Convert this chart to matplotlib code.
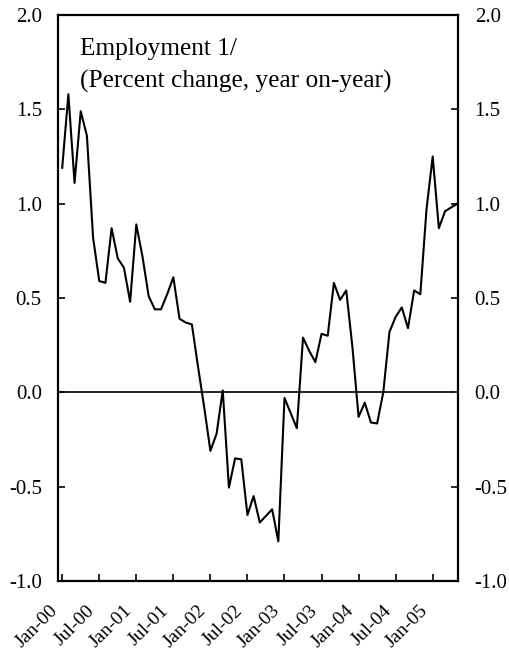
import matplotlib
matplotlib.use("Agg")
import matplotlib.pyplot as plt
import matplotlib.transforms as mtransforms

months = ["Jan", "Feb", "Mar", "Apr", "May", "Jun", "Jul", "Aug", "Sep", "Oct", "Nov", "Dec"]
dates = [f"{m}-{y:02d}" for y in range(0, 6) for m in months][:65]

employment = [
    1.19, 1.58, 1.11, 1.49, 1.36, 0.82, 0.59, 0.58, 0.87, 0.71, 0.66, 0.48,
    0.89, 0.72, 0.51, 0.44, 0.44, 0.52, 0.61, 0.39, 0.37, 0.36, 0.135, -0.08,
    -0.31, -0.22, 0.01, -0.505, -0.35, -0.355, -0.65, -0.55, -0.69, -0.655, -0.62, -0.79,
    -0.03, -0.11, -0.19, 0.29, 0.22, 0.16, 0.31, 0.30, 0.58, 0.49, 0.54, 0.24,
    -0.13, -0.055, -0.16, -0.165, 0.0, 0.32, 0.40, 0.45, 0.34, 0.54, 0.52, 0.97,
    1.25, 0.87, 0.96, 0.98, 1.00,
]
tick_labels = ["Jan-00", "Jul-00", "Jan-01", "Jul-01", "Jan-02", "Jul-02",
               "Jan-03", "Jul-03", "Jan-04", "Jul-04", "Jan-05"]
y_ticks = [-1.0, -0.5, 0.0, 0.5, 1.0, 1.5, 2.0]

plt.rcParams["font.family"] = ["Liberation Serif", "DejaVu Serif"]

fig = plt.figure(figsize=(5.1, 6.57), dpi=100)
ax = fig.add_axes([58.5 / 510, 1 - 581 / 657, (458 - 58.5) / 510, (581 - 15) / 657])

x = list(range(len(employment)))
ax.plot(x, employment, color="black", lw=1.5)
ax.axhline(0, color="black", lw=1.2, xmin=0, xmax=0.985)

ax.set_xlim(-0.6, 64.1)
ax.set_ylim(-1.0, 2.0)

tick_pos = [dates.index(t) for t in tick_labels]
ax.set_xticks(tick_pos)
ax.set_xticklabels(tick_labels, rotation=45, ha="right", rotation_mode="anchor", fontsize=14)
ax.tick_params(axis="x", direction="in", length=5, width=1.2, pad=15)
shift = mtransforms.ScaledTranslation(-13 / 100, 0, fig.dpi_scale_trans)
for lab in ax.get_xticklabels():
    lab.set_transform(lab.get_transform() + shift)

ax.set_yticks(y_ticks)
ax.set_yticklabels([f"{v:.1f}" for v in y_ticks], fontsize=15)
ax.tick_params(axis="y", direction="in", length=5, width=1.2, pad=12,
               left=True, right=True, labelleft=True, labelright=True)

for s in ax.spines.values():
    s.set_linewidth(1.6)

ax.text(0.055, 0.929, "Employment 1/", transform=ax.transAxes, fontsize=18.3,
        va="baseline", ha="left")
ax.text(0.055, 0.871, "(Percent change, year on-year)", transform=ax.transAxes,
        fontsize=18.3, va="baseline", ha="left")

fig.savefig("out.png", dpi=100)
